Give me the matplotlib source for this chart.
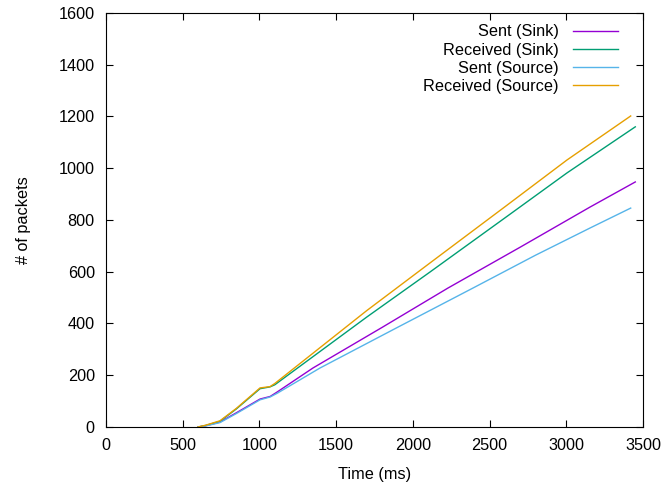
import matplotlib
matplotlib.use("Agg")
import matplotlib.pyplot as plt

plt.rcParams['font.family'] = ['Liberation Sans', 'DejaVu Sans']

# values (time in ms, cumulative packets)
t_sent_sink = [600, 650, 743, 850, 1004, 1070, 1115, 1349, 1800, 2229, 2700, 3155, 3450]
sent_sink = [0, 5, 19, 55, 108, 118, 135, 228, 385, 537, 695, 850, 947]

t_recv_sink = [600, 650, 743, 850, 1004, 1069, 1100, 1700, 2112, 2600, 3005, 3450]
recv_sink = [0, 6, 22, 70, 148, 155, 163, 425, 599, 808, 982, 1160]

t_sent_src = [600, 650, 743, 850, 1004, 1070, 1115, 1395, 1900, 2392, 2800, 3155, 3420]
sent_src = [0, 4, 17, 52, 105, 116, 130, 228, 385, 537, 664, 769, 846]

t_recv_src = [600, 650, 743, 850, 1004, 1069, 1100, 1700, 2112, 2600, 3005, 3420]
recv_src = [0, 7, 24, 72, 151, 156, 168, 450, 634, 851, 1032, 1202]

fig = plt.figure(figsize=(6.72, 4.88), dpi=100)
ax = fig.add_axes([0.1577, 0.125, 0.7991, 0.8484])

ax.plot(t_sent_sink, sent_sink, color='#9400d3', lw=1, label='Sent (Sink)')
ax.plot(t_recv_sink, recv_sink, color='#009e73', lw=1, label='Received (Sink)')
ax.plot(t_sent_src, sent_src, color='#56b4e9', lw=1, label='Sent (Source)')
ax.plot(t_recv_src, recv_src, color='#e69f00', lw=1, label='Received (Source)')

ax.set_xlim(0, 3500)
ax.set_ylim(0, 1600)
ax.set_xticks(range(0, 3501, 500))
ax.set_yticks(range(0, 1601, 200))
ax.tick_params(direction='in', top=True, right=True, length=5, labelsize=11.7, pad=8)
for s in ax.spines.values():
    s.set_linewidth(0.8)

ax.set_xlabel('Time (ms)', fontsize=11.7, labelpad=10)
ax.set_ylabel('# of packets', fontsize=11.7, labelpad=20)

ax.legend(loc='upper right', frameon=False, markerfirst=False, fontsize=11.7,
          handlelength=2.75, handletextpad=0.9, labelspacing=0.2,
          borderaxespad=0.3, bbox_to_anchor=(0.975, 1.0))

fig.savefig('out.png', dpi=100)
